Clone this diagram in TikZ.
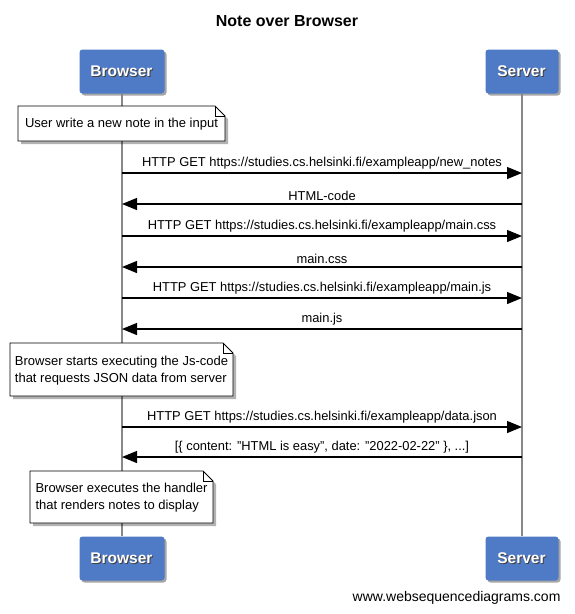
\documentclass[tikz,border=0pt]{standalone}
\usepackage{fontspec}
\setmainfont{Liberation Sans}
\usetikzlibrary{arrows.meta,shadows}
\definecolor{actorblue}{RGB}{79,122,197}
\definecolor{lifegray}{RGB}{136,136,136}
\tikzset{
  actor/.style={draw=none, fill=actorblue, rounded corners=3pt, minimum width=84pt, minimum height=43pt,
    font=\bfseries\fontsize{15.5}{18}\selectfont, text=white, inner sep=0pt,
    drop shadow={shadow xshift=2pt, shadow yshift=-2pt, fill=black, opacity=0.35}},
  lifeline/.style={draw=lifegray, line width=1.3pt},
  msg/.style={draw=black, line width=1.2pt, -{Triangle[length=15pt,width=12pt]}},
  msglabel/.style={font=\fontsize{12.9}{14}\selectfont, inner sep=0pt, anchor=base},
  notetext/.style={font=\fontsize{13}{17}\selectfont, align=left, inner sep=0pt},
  noteline/.style={draw=black, line width=0.8pt, fill=white},
  noteshadow/.style={fill=black, opacity=0.3, draw=none}
}
\newcommand{\mynote}[6]{% name, x1, y1, x2, y2, text
  \fill[noteshadow] (#2+3,#3+3) -- (#4-10+3,#3+3) -- (#4+3,#3+10+3) -- (#4+3,#5+3) -- (#2+3,#5+3) -- cycle;
  \path[noteline] (#2,#3) -- (#4-10,#3) -- (#4,#3+10) -- (#4,#5) -- (#2,#5) -- cycle;
  \draw[line width=0.6pt] (#4-10,#3) -- (#4-10,#3+10) -- (#4,#3+10);
  \node[notetext] (#1) at ({(#2+#4)/2},{(#3+#5)/2+1}) {#6};
}
\newcommand{\shadowtext}[1]{\tikz[baseline]{\node[inner sep=0pt,anchor=base,text=black!75] at (1pt,-1pt) {#1};\node[inner sep=0pt,anchor=base,text=white] at (0,0) {#1};}}
\begin{document}
\begin{tikzpicture}[x=1pt,y=-1pt]
\useasboundingbox (0,0) rectangle (574,614);
\fill[white] (0,0) rectangle (574,614);
% title
\node[font=\bfseries\fontsize{16}{18}\selectfont] (title) at (287,21) {Note over Browser};
% actors
\node[actor] (btop) at (122,71.5) {\shadowtext{Browser}};
\node[actor, minimum width=72pt] (stop) at (522,71.5) {\shadowtext{Server}};
\node[actor] (bbot) at (122,558.5) {\shadowtext{Browser}};
\node[actor, minimum width=72pt] (sbot) at (522,558.5) {\shadowtext{Server}};
% lifelines
\draw[lifeline] (btop.south) -- (bbot.north);
\draw[lifeline] (stop.south) -- (sbot.north);
% coordinates on lifelines
\foreach \n/\y in {1/173,2/204,3/236,4/267,5/298,6/329,7/427,8/457}{
  \coordinate (b\n) at (122,\y);
  \coordinate (s\n) at (522,\y);
}
% note 1
\mynote{note1}{18}{106}{225}{141}{User write a new note in the input}
% messages
\draw[msg] (b1) -- node[msglabel, above=3pt] {HTTP GET https://studies.cs.helsinki.fi/exampleapp/new\_notes} (s1);
\draw[msg] (s2) -- node[msglabel, above=3pt] {HTML-code} (b2);
\draw[msg] (b3) -- node[msglabel, above=3pt] {HTTP GET https://studies.cs.helsinki.fi/exampleapp/main.css} (s3);
\draw[msg] (s4) -- node[msglabel, above=3pt] {main.css} (b4);
\draw[msg] (b5) -- node[msglabel, above=3pt] {HTTP GET https://studies.cs.helsinki.fi/exampleapp/main.js} (s5);
\draw[msg] (s6) -- node[msglabel, above=3pt] {main.js} (b6);
% note 2
\mynote{note2}{10}{343}{233}{396}{Browser starts executing the Js-code\\that requests JSON data from server}
\draw[msg] (b7) -- node[msglabel, above=3pt] {HTTP GET https://studies.cs.helsinki.fi/exampleapp/data.json} (s7);
\draw[msg] (s8) -- node[msglabel, above=3pt] {[\{ content: "HTML is easy", date: "2022-02-22" \}, ...]} (b8);
% note 3
\mynote{note3}{30}{471}{213}{523}{Browser executes the handler\\that renders notes to display}
% footer
\node[font=\fontsize{14}{16}\selectfont, anchor=east] (footer) at (564,598) {www.websequencediagrams.com};
\end{tikzpicture}
\end{document}
